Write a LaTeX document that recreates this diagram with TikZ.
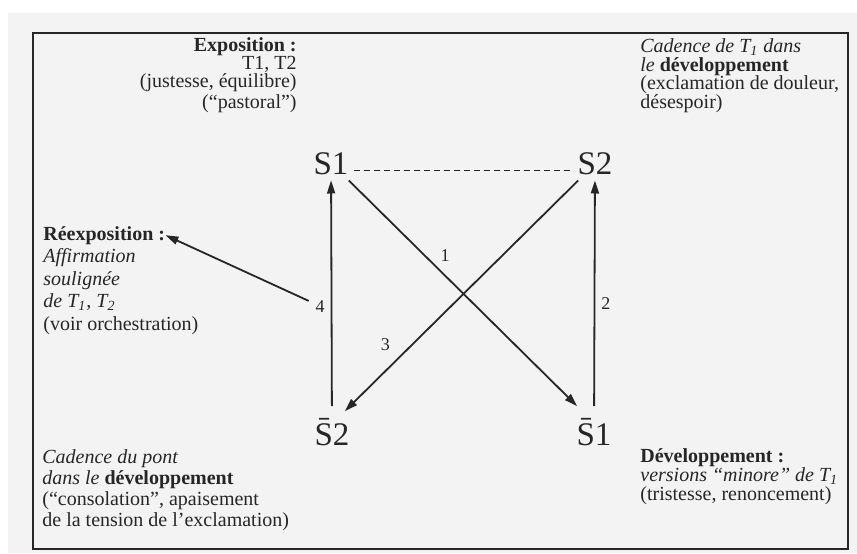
\documentclass[tikz,border=0pt]{standalone}
\usepackage{fontspec}
\setmainfont{Liberation Serif}
\usepackage{xcolor}
\usetikzlibrary{arrows.meta, positioning}
\definecolor{ink}{HTML}{262626}
\definecolor{paper}{HTML}{F3F3F3}
\tikzstyle{state} = [inner sep=2.5pt, font=\fontsize{16.5}{18}\selectfont, text=ink]
\tikzstyle{note} = [inner sep=0pt, text=ink]
\tikzstyle{num} = [inner sep=2pt, font=\fontsize{9}{10}\selectfont, text=ink]
\tikzstyle{arrow} = [line width=0.9pt, draw=ink, -{Triangle[length=6.5pt, width=4pt]}]

\begin{document}
\begin{tikzpicture}[x=0.5pt, y=-0.5pt]
    \useasboundingbox (0,0) rectangle (857,553);
    \fill[paper] (8,13) rectangle (857,553);
    \draw[ink, line width=1pt] (33,33) rectangle (848,549);

    % the four states
    \node (s1) [state] at (331,164) {S1};
    \node (s2) [state] at (595,164) {S2};
    \node (s2b) [state] at (332,432) {\=S2};
    \node (s1b) [state] at (594,432) {\=S1};

    % texts round the square (base = last line)
    \node (expo) [note, align=right, anchor=base east, font=\fontsize{10}{9}\selectfont] at (297,108)
        {\textbf{Exposition :}\\T1, T2\\(justesse, équilibre)\\(“pastoral”)};
    \node (cad) [note, align=left, anchor=base west, font=\fontsize{10}{9.2}\selectfont] at (640,108)
        {\textit{Cadence de T\textsubscript{1} dans}\\\textit{le} \textbf{développement}\\(exclamation de douleur,\\désespoir)};
    \node (reexp) [note, anchor=base west, font=\fontsize{10}{11}\selectfont] at (43,240) {\textbf{Réexposition :}};
    \node (reexpb) [note, align=left, anchor=base west, font=\fontsize{10}{11.2}\selectfont] at (43,330)
        {\textit{Affirmation}\\\textit{soulignée}\\\textit{de T\textsubscript{1}, T\textsubscript{2}}\\(voir orchestration)};
    \node (pont) [note, align=left, anchor=base west, font=\fontsize{10}{10.4}\selectfont] at (42,526)
        {\textit{Cadence du pont}\\\textit{dans le} \textbf{développement}\\(“consolation”, apaisement\\de la tension de l’exclamation)};
    \node (dev) [note, align=left, anchor=base west, font=\fontsize{10}{9.5}\selectfont] at (640,500)
        {\textbf{Développement :}\\\textit{versions “minore” de T\textsubscript{1}}\\(tristesse, renoncement)};

    % connectors
    \draw[ink, line width=0.6pt, dash pattern=on 3pt off 2pt] ([yshift=2pt]s1.base east) -- ([yshift=2pt]s2.base west);
    \draw [arrow] ([xshift=-2.5pt]s1.south east) -- node[num, above right, pos=0.38] (n1) {1} ([xshift=3pt, yshift=3.5pt]s1b.north west);
    \draw [arrow, shorten <=3.5pt] (s1b) -- node[num, right, pos=0.47, inner sep=3pt] (n2) {2} (s2);
    \draw [arrow] ([xshift=3pt]s2.south west) -- node[num, above left, pos=0.76, xshift=-3pt] (n3) {3} ([xshift=-5pt, yshift=1pt]s2b.north east);
    \draw [arrow, shorten <=3.5pt] (s2b) -- node[num, left, pos=0.46, inner sep=3pt] (n4) {4} (s1);
    \draw [arrow] (n4) -- (reexp.east);
\end{tikzpicture}
\end{document}
